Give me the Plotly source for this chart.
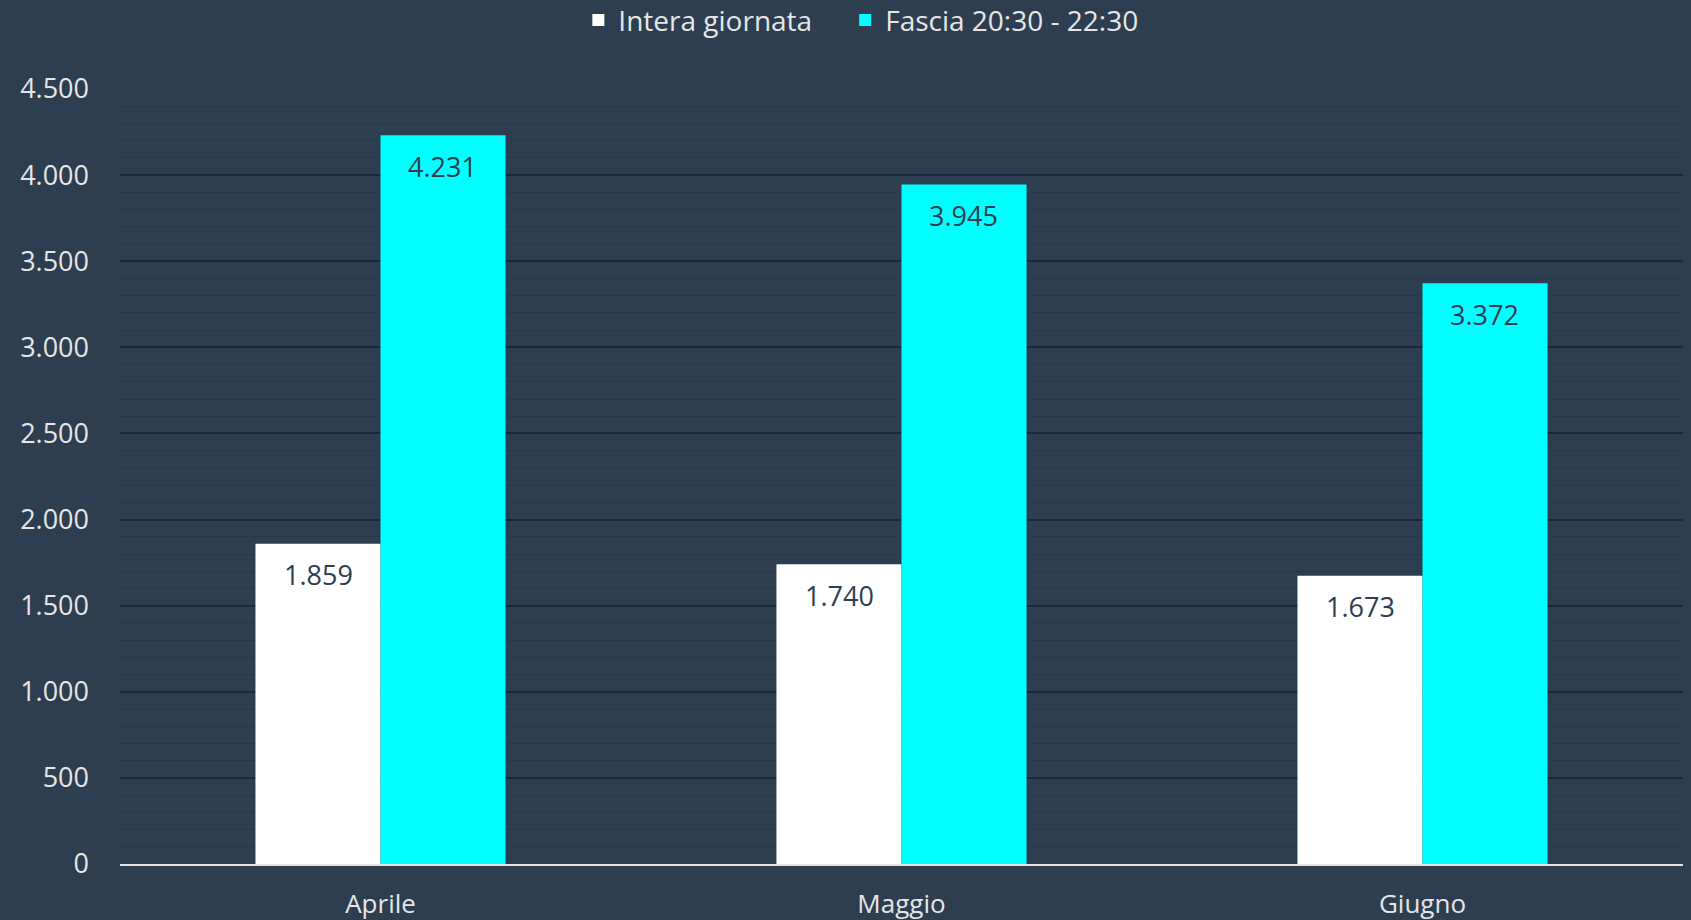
import plotly.graph_objects as go

months = ["Aprile", "Maggio", "Giugno"]
intera = [1859, 1740, 1673]
fascia = [4231, 3945, 3372]
series_names = ["Intera giornata", "Fascia 20:30 - 22:30"]
tick_vals = [0, 500, 1000, 1500, 2000, 2500, 3000, 3500, 4000, 4500]

BG = "#2C3E50"
FONT = "Open Sans"
TXT = "#E6E6E6"

fig = go.Figure()
fig.add_trace(go.Bar(x=months, y=intera, name=series_names[0] + "\u2003",
                     marker=dict(color="#FFFFFF", line=dict(width=0))))
fig.add_trace(go.Bar(x=months, y=fascia, name=series_names[1],
                     marker=dict(color="#00FFFF", line=dict(width=0))))

annotations = []
for i, m in enumerate(months):
    for k, vals in enumerate([intera, fascia]):
        annotations.append(dict(
            x=i, y=vals[i], xref="x", yref="y",
            xshift=(-62 if k == 0 else 62), yshift=-31,
            text=f"{vals[i]:,}".replace(",", "."),
            showarrow=False,
            font=dict(family=FONT, size=27, color=BG),
        ))

fig.update_layout(
    width=1691, height=920,
    paper_bgcolor=BG, plot_bgcolor=BG,
    margin=dict(l=120, r=8, t=89, b=56, autoexpand=False),
    barmode="group", bargap=0.52, bargroupgap=0,
    separators=",.",
    font=dict(family=FONT, color=TXT, size=26),
    legend=dict(orientation="h", x=0.474, xanchor="center", y=1.121, yanchor="top",
                font=dict(family=FONT, size=28, color=TXT),
                bgcolor="rgba(0,0,0,0)", itemwidth=30, tracegroupgap=0),
    annotations=annotations,
    showlegend=True,
)
fig.update_xaxes(showgrid=False, showline=True, linecolor=TXT, linewidth=2,
                 ticks="", tickfont=dict(family=FONT, size=26, color=TXT),
                 zeroline=False, ticklabelstandoff=16, automargin=False)
fig.update_yaxes(range=[0, 4500], tickvals=tick_vals, tickformat=",d",
                 showgrid=True, gridcolor="#1E2833", gridwidth=2,
                 minor=dict(dtick=100, showgrid=True, gridcolor="#28384B", gridwidth=1),
                 zeroline=False, showline=False, ticks="", automargin=False,
                 tickfont=dict(family=FONT, size=27, color=TXT), ticklabelstandoff=30)

fig.write_html("out.html", config={"displayModeBar": False},
               post_script="document.body.style.margin='0';document.body.style.background='#2C3E50';")
